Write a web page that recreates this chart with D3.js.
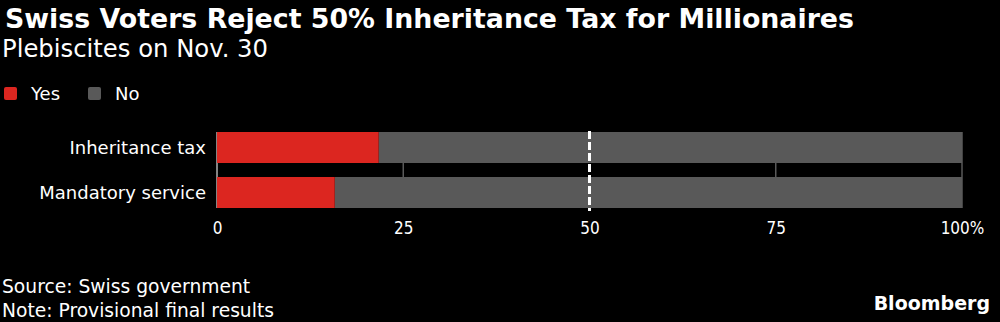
<!DOCTYPE html>
<html><head><meta charset="utf-8">
<script src="https://cdn.jsdelivr.net/npm/d3@7"></script>
<style>
html,body{margin:0;padding:0;background:#000;}
svg{display:block;}
text{font-family:"DejaVu Sans",sans-serif;fill:#fff;}
</style></head><body>
<svg id="c" width="1000" height="322"></svg>
<script>
const categories = ["Inheritance tax", "Mandatory service"];
const yesValues = [21.7, 15.8];
const noValues = [78.3, 84.2];
const tickValues = [0, 25, 50, 75, 100];
const tickLabels = ["0", "25", "50", "75", "100%"];
const seriesNames = ["Yes", "No"];
const seriesColors = ["#dc2620", "#595959"];

const svg = d3.select("#c");
svg.append("rect").attr("width",1000).attr("height",322).attr("fill","#000");

svg.append("text").attr("x",5).attr("y",28).text("Swiss Voters Reject 50% Inheritance Tax for Millionaires")
  .style("font-weight","bold").style("font-size","26.8px");
svg.append("text").attr("x",2).attr("y",57).text("Plebiscites on Nov. 30")
  .style("font-size","24.3px");

// legend
const lg = svg.append("g");
const lx = [4, 88];
seriesNames.forEach((n,i)=>{
  lg.append("rect").attr("x",lx[i]).attr("y",87).attr("width",13).attr("height",13).attr("rx",2).attr("fill",seriesColors[i]);
  lg.append("text").attr("x",lx[i]+27).attr("y",100).text(n).style("font-size","18px");
});

const x = d3.scaleLinear().domain([0,100]).range([217,962]);
const y = d3.scaleBand().domain(categories).range([132,208]).paddingInner(0.311).paddingOuter(0);

// gridlines
svg.append("g").selectAll("line").data(tickValues.filter(v=>v!==50)).join("line")
  .attr("x1",d=>x(d)).attr("x2",d=>x(d)).attr("y1",132).attr("y2",208)
  .attr("stroke",d=>d===0?"#ddd":"#595959").attr("stroke-width",d=>d===0?1.2:1.5);

// bars
const data = categories.map((c,i)=>({c, yes:yesValues[i], no:noValues[i]}));
const g = svg.append("g");
g.selectAll(".no").data(data).join("rect").attr("class","no")
  .attr("x",d=>x(d.yes)).attr("width",d=>x(d.yes+d.no)-x(d.yes))
  .attr("y",d=>y(d.c)).attr("height",y.bandwidth()).attr("fill",seriesColors[1]);
g.selectAll(".yes").data(data).join("rect").attr("class","yes")
  .attr("x",x(0)).attr("width",d=>x(d.yes)-x(0))
  .attr("y",d=>y(d.c)).attr("height",y.bandwidth()).attr("fill",seriesColors[0]);

// 50% dashed line
svg.append("line").attr("x1",x(50)).attr("x2",x(50)).attr("y1",131).attr("y2",211)
  .attr("stroke","#fff").attr("stroke-width",3).attr("stroke-dasharray","8,3");

// category labels
svg.append("g").selectAll("text").data(categories).join("text")
  .attr("x",206).attr("y",d=>y(d)+y.bandwidth()/2).attr("dy","0.35em")
  .attr("text-anchor","end").style("font-size","18px").text(d=>d);

// x axis
const xAxis = d3.axisBottom(x).tickValues(tickValues).tickFormat((d,i)=>tickLabels[i]).tickSize(0).tickPadding(0);
const ax = svg.append("g").attr("transform","translate(0,222)").call(xAxis);
ax.select(".domain").remove();
ax.selectAll("text").style("font-size","17px").style("fill","#fff")
  .style("font-family","'DejaVu Sans Condensed',sans-serif").attr("dy","0.71em");

// footer
svg.append("text").attr("x",2).attr("y",293).text("Source: Swiss government").style("font-size","18.7px");
svg.append("text").attr("x",2).attr("y",317).text("Note: Provisional final results").style("font-size","18.7px");
svg.append("text").attr("x",990).attr("y",310).attr("text-anchor","end").text("Bloomberg")
  .style("font-size","19px").style("font-weight","bold");
</script>
</body></html>
